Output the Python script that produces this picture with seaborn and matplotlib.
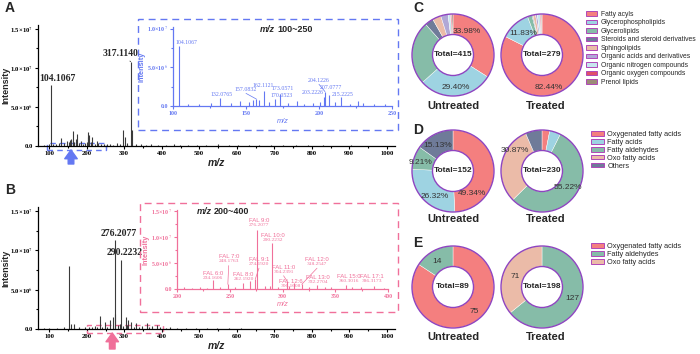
import numpy as np
import matplotlib
matplotlib.use("Agg")
import matplotlib.pyplot as plt
import seaborn as sns
from matplotlib.patches import Rectangle, Circle, Patch
from matplotlib.ticker import AutoMinorLocator

sns.set_style("ticks")
plt.rcParams['font.family'] = ['Liberation Sans', 'DejaVu Sans']
plt.rcParams['mathtext.fontset'] = 'stix'

# ---------------- data ----------------
# panel A: mass spectrum (m/z, intensity)
a_mz = [85, 98, 104.1067, 110, 118, 126, 132.0765, 140, 146, 152, 155, 157.0832, 159,
        162.1121, 166, 170.0523, 173.0571, 179, 185, 190, 196, 201, 203.2226, 204.1226,
        207.0777, 211, 215.2225, 221, 227, 230, 238, 245, 254, 262, 270, 281, 289, 297,
        301, 306, 317.1140, 320, 331, 345, 358, 372, 390, 410, 433, 448, 470, 495, 518,
        551, 578, 603, 632, 660, 690, 722, 757, 790, 830, 868, 905, 942, 980]
a_int = [0.15e6, 0.2e6, 7.8e6, 0.3e6, 0.25e6, 0.35e6, 1.0e6, 0.4e6, 0.7e6, 0.5e6, 0.8e6, 0.9e6, 0.8e6,
         1.95e6, 0.5e6, 0.85e6, 1.6e6, 0.4e6, 0.6e6, 0.3e6, 0.4e6, 0.5e6, 1.1e6, 1.85e6,
         1.4e6, 0.5e6, 1.1e6, 0.3e6, 0.6e6, 0.4e6, 0.25e6, 0.2e6, 0.3e6, 0.2e6, 0.15e6, 0.35e6, 0.3e6, 2.1e6,
         1.2e6, 0.4e6, 1.08e7, 2.0e6, 0.3e6, 0.2e6, 0.15e6, 0.2e6, 0.15e6, 0.12e6, 0.2e6, 0.15e6, 0.1e6, 0.15e6, 0.1e6,
         0.25e6, 0.1e6, 0.15e6, 0.1e6, 0.12e6, 0.1e6, 0.08e6, 0.1e6, 0.08e6, 0.08e6, 0.06e6, 0.08e6, 0.06e6, 0.05e6]

# panel B: mass spectrum (m/z, intensity)
b_mz = [85, 100, 120, 138, 152.05, 158, 167, 180, 195, 207, 214, 222, 228, 234.1606, 241,
        248.1763, 255, 262.1920, 269, 274.1920, 276.2077, 283, 288, 290.2232, 296, 304.2391,
        306.1608, 311, 318.2547, 325, 332.2704, 340, 346, 360.3016, 366, 374, 386.3173, 396,
        410, 422, 440, 465, 490, 520, 548, 580, 610, 650, 700, 760, 820, 890, 950]
b_int = [0.1e6, 0.1e6, 0.15e6, 0.2e6, 8.0e6, 0.6e6, 0.6e6, 0.2e6, 0.2e6, 0.3e6, 0.2e6, 0.35e6, 0.2e6, 1.65e6, 0.3e6,
         0.9e6, 0.3e6, 1.2e6, 1.5e6, 1.9e6, 1.13e7, 0.5e6, 0.6e6, 8.8e6, 0.4e6, 1.55e6,
         0.5e6, 1.1e6, 0.9e6, 0.3e6, 0.7e6, 0.3e6, 0.4e6, 0.7e6, 0.3e6, 0.4e6, 0.5e6, 0.2e6,
         0.15e6, 0.25e6, 0.1e6, 0.15e6, 0.1e6, 0.12e6, 0.1e6, 0.08e6, 0.08e6, 0.06e6, 0.06e6, 0.05e6, 0.05e6, 0.04e6, 0.04e6]

# annotated peaks
a_main_labels = ['104.1067', '317.1140']
a_inset_labels = ['104.1067', '132.0765', '157.0832', '162.1121', '173.0571', '170.0523',
                  '204.1226', '207.0777', '203.2226', '215.2225']
b_main_labels = ['276.2077', '290.2232']
b_inset_names = ['FAL 6:0', 'FAL 7:0', 'FAL 8:0', 'FAL 9:0', 'FAL 9:1', 'FAL 10:0', 'FAL 11:0',
                 'FAL 12:6', 'FAL 12:0', 'FAL 13:0', 'FAL 15:0', 'FAL 17:1']
b_inset_mz = ['234.1606', '248.1763', '262.1920', '276.2077', '274.1920', '290.2232', '304.2391',
              '306.1608', '318.2547', '332.2704', '360.3016', '386.3173']

# panel C: lipid classes
c_classes = ['Fatty acyls', 'Glycerophospholipids', 'Glycerolipids', 'Steroids and steroid derivatives',
             'Sphingolipids', 'Organic acids and derivatives', 'Organic nitrogen compounds',
             'Organic oxygen compounds', 'Prenol lipids']
c_untreated = [141, 122, 104, 14, 14, 12, 4, 2, 2]
c_treated = [230, 33, 5, 1, 3, 2, 3, 1, 1]

# panel D: fatty acyl subclasses
d_classes = ['Oxygenated fatty acids', 'Fatty acids', 'Fatty aldehydes', 'Oxo fatty acids', 'Others']
d_untreated = [75, 40, 14, 0, 23]
d_treated = [7, 10, 127, 71, 15]

# panel E
e_classes = ['Oxygenated fatty acids', 'Fatty aldehydes', 'Oxo fatty acids']
e_untreated = [75, 14, 0]
e_treated = [0, 127, 71]

groups = ['Untreated', 'Treated']

# ---------------- style ----------------
W, H = 700, 354
BLUE = '#6478F2'
PINK = '#F0709A'
PURPLE = '#8E44C0'
LEG_EDGE = '#B048B8'
c_colors = ['#F47F7F', '#9ED3E2', '#86BCA8', '#6F7B99', '#EBBBA8', '#B0A8D6', '#C6E6EE', '#E0506A', '#9C8B78']
d_colors = ['#F47F7F', '#9ED3E2', '#86BCA8', '#EBBBA8', '#6F7B99']
e_colors = ['#F47F7F', '#86BCA8', '#EBBBA8']
SERIF = ['Liberation Serif', 'DejaVu Serif']


def fx(px):
    return px / W


def fy(py):
    return 1 - py / H


def ax_rect(left, top, right, bottom):
    return [fx(left), fy(bottom), (right - left) / W, (bottom - top) / H]


def sci_labels(ticks):
    out = []
    for t in ticks:
        if t == 0:
            out.append('0.0')
        else:
            e = int(np.floor(np.log10(t)))
            out.append('%.1f×10$^{%d}$' % (t / 10 ** e, e))
    return out


def style_spec_axis(ax, color, labelsize):
    sns.despine(ax=ax)
    for s in ['left', 'bottom']:
        ax.spines[s].set_color(color)
        ax.spines[s].set_linewidth(0.9)
    ax.tick_params(which='both', direction='out', colors=color, labelsize=labelsize, width=0.8, pad=1.2)
    ax.tick_params(which='major', length=2.5)
    ax.tick_params(which='minor', length=1.3)
    ax.xaxis.set_minor_locator(AutoMinorLocator(2))
    ax.yaxis.set_minor_locator(AutoMinorLocator(2))
    for lab in ax.get_xticklabels() + ax.get_yticklabels():
        lab.set_family(SERIF)
        lab.set_fontweight('bold')


def draw_main(ax, mz, inten, yticks):
    ax.vlines(mz, 0, inten, color='#3a3a3a', linewidth=0.8)
    ax.set_xlim(70, 1022)
    ax.set_ylim(0, 1.55e7)
    ax.set_xticks(range(100, 1001, 100))
    ax.set_yticks(yticks)
    ax.set_yticklabels(sci_labels(yticks))
    style_spec_axis(ax, 'black', 4.8)
    ax.set_ylabel('Intensity', fontsize=6.5, fontweight='bold')
    ax.yaxis.set_label_coords(-0.077, 0.5)
    ax.set_xlabel('m/z', fontsize=7.5, fontweight='bold', style='italic', labelpad=1)
    ax.patch.set_alpha(0)


def draw_inset(ax, mz, inten, color, xlim, ylim, xticks, yticks):
    ax.vlines(mz, 0, inten, color=color, linewidth=0.8)
    ax.set_xlim(*xlim)
    ax.set_ylim(*ylim)
    ax.set_xticks(xticks)
    ax.set_yticks(yticks)
    ax.set_yticklabels(sci_labels(yticks))
    style_spec_axis(ax, color, 4.3)
    ax.set_ylabel('Intensity', fontsize=5.3, fontweight='bold', color=color, labelpad=1)
    ax.set_xlabel('m/z', fontsize=5.3, style='italic', color=color, labelpad=1)
    ax.patch.set_alpha(0)


def peak_height(mz, inten, label):
    return inten[int(np.argmin(np.abs(np.array(mz) - float(label))))]


# ---------------- figure ----------------
fig = plt.figure(figsize=(7, 3.54), dpi=100)

# ---- A ----
axA = fig.add_axes(ax_rect(38, 25, 395, 146))
draw_main(axA, a_mz, a_int, [0, 5e6, 1e7, 1.5e7])
axA.text(123, peak_height(a_mz, a_int, a_main_labels[0]) + 0.25e6, a_main_labels[0],
         ha='center', va='bottom', fontsize=7, fontweight='bold', family=SERIF)
axA.annotate(a_main_labels[1], xy=(317.1, peak_height(a_mz, a_int, a_main_labels[1])),
             xytext=(290, 1.13e7), ha='center', va='bottom', fontsize=7, fontweight='bold', family=SERIF,
             arrowprops=dict(arrowstyle='-', color='#444444', lw=0.6, shrinkA=0, shrinkB=0))
axA.add_patch(Rectangle((95, -0.5e6), 155, 0.9e6, fill=False, ec=BLUE, lw=1.0, ls=(0, (4, 3)), clip_on=False))
axA.annotate('', xy=(158, H - 150), xytext=(158, H - 164), xycoords=('data', 'figure pixels'),
             textcoords=('data', 'figure pixels'),
             arrowprops=dict(arrowstyle='simple,head_length=0.7,head_width=1.0,tail_width=0.45',
                             color=BLUE, mutation_scale=9, shrinkA=0, shrinkB=0))

fig.add_artist(Rectangle((fx(138), fy(130)), 260 / W, 111 / H, transform=fig.transFigure,
                         fill=False, ec=BLUE, lw=1.0, ls=(0, (5, 3.5))))
axAi = fig.add_axes(ax_rect(173, 27, 392, 106))
draw_inset(axAi, a_mz, a_int, BLUE, (100, 250), (0, 1.02e7), [100, 150, 200, 250], [0, 5e6, 1e7])
fig.text(fx(275), fy(29), 'm/z', ha='right', va='center', fontsize=6.5, fontweight='bold', style='italic')
fig.text(fx(277), fy(29), '100~250', ha='left', va='center', fontsize=6.5, fontweight='bold')
a_lab_pos = [(109.4, 8.2e6), (133.6, 1.43e6), (150, 2.08e6), (162, 2.6e6), (175, 2.2e6), (174.5, 1.3e6),
             (200, 3.25e6), (208.5, 2.45e6), (196, 1.7e6), (216.5, 1.5e6)]
for lab, (tx, ty) in zip(a_inset_labels, a_lab_pos):
    px = float(lab)
    py = peak_height(a_mz, a_int, lab)
    axAi.text(tx, ty, lab, ha='center', va='center', fontsize=4.2, color=BLUE, family=SERIF)
    if ty - 0.45e6 > py + 0.15e6 and abs(tx - px) > 2:
        axAi.plot([tx, px], [ty - 0.45e6, py], color=BLUE, lw=0.5)

# ---- B ----
axB = fig.add_axes(ax_rect(38, 207, 395, 329))
draw_main(axB, b_mz, b_int, [0, 5e6, 1e7, 1.5e7])
axB.text(285, peak_height(b_mz, b_int, b_main_labels[0]) + 0.3e6, b_main_labels[0],
         ha='center', va='bottom', fontsize=7, fontweight='bold', family=SERIF)
axB.text(300, peak_height(b_mz, b_int, b_main_labels[1]) + 0.3e6, b_main_labels[1],
         ha='center', va='bottom', fontsize=7, fontweight='bold', family=SERIF)
axB.add_patch(Rectangle((200, -0.5e6), 204, 1.0e6, fill=False, ec=PINK, lw=1.0, ls=(0, (4, 3)), clip_on=False))
axB.annotate('', xy=(268, H - 333), xytext=(268, H - 349), xycoords=('data', 'figure pixels'),
             textcoords=('data', 'figure pixels'),
             arrowprops=dict(arrowstyle='simple,head_length=0.7,head_width=1.0,tail_width=0.45',
                             color=PINK, mutation_scale=9, shrinkA=0, shrinkB=0))

fig.add_artist(Rectangle((fx(140), fy(312)), 258 / W, 109 / H, transform=fig.transFigure,
                         fill=False, ec=PINK, lw=1.0, ls=(0, (5, 3.5))))
axBi = fig.add_axes(ax_rect(177, 210, 388, 289))
draw_inset(axBi, b_mz, b_int, PINK, (200, 400), (0, 1.52e7), [200, 250, 300, 350, 400],
           [0, 5e6, 1e7, 1.5e7])
fig.text(fx(212), fy(211), 'm/z', ha='right', va='center', fontsize=6.5, fontweight='bold', style='italic')
fig.text(fx(214), fy(211), '200~400', ha='left', va='center', fontsize=6.5, fontweight='bold')
b_lab_pos = [(234, 2.5e6), (249, 5.7e6), (263, 2.3e6), (277.7, 12.7e6), (277.7, 5.2e6), (291, 9.8e6),
             (301, 3.75e6), (308, 1.05e6), (332.7, 5.2e6), (334, 1.75e6), (363, 1.9e6), (385, 1.9e6)]
for name, lab, (tx, ty) in zip(b_inset_names, b_inset_mz, b_lab_pos):
    px = float(lab)
    py = peak_height(b_mz, b_int, lab)
    axBi.text(tx, ty, name, ha='center', va='bottom', fontsize=4.3, color=PINK)
    axBi.text(tx, ty, lab, ha='center', va='top', fontsize=3.9, color=PINK, family=SERIF)
    if ty - 1.2e6 > py + 0.3e6:
        axBi.plot([tx, px], [ty - 1.2e6, py], color=PINK, lw=0.5)

# ---- donuts ----
donut_rows = [
    # centre y, classes, colours, untreated, treated, label mode, label positions (angle, r) per group
    (55, c_classes, c_colors, c_untreated, c_treated, 'pct',
     [{0: (31, 0.66), 1: (175, 0.8)}, {0: (169, 0.8), 1: (318, 0.7)}]),
    (171, d_classes, d_colors, d_untreated, d_treated, 'pct',
     [{0: (140, 0.72), 1: (216, 0.76), 2: (284, 0.82), 4: (330, 0.73)}, {2: (123, 0.76), 3: (308, 0.83)}]),
    (287, e_classes, e_colors, e_untreated, e_treated, 'count',
     [{0: (139, 0.8), 1: (328, 0.73)}, {1: (111, 0.8), 2: (292, 0.71)}]),
]
centres_x = [453, 542]
label_y = [106, 219, 337]
R = 41
HALF = 44

for row, (cy, classes, colors, unt, trt, mode, lpos) in enumerate(donut_rows):
    for g, vals in enumerate([unt, trt]):
        cx = centres_x[g]
        ax = fig.add_axes(ax_rect(cx - HALF, cy - HALF, cx + HALF, cy + HALF))
        keep = [i for i, v in enumerate(vals) if v > 0]
        ax.pie([vals[i] for i in keep], colors=[colors[i] for i in keep], startangle=90, counterclock=False,
               radius=1, wedgeprops=dict(width=0.5, edgecolor='white', linewidth=0.3))
        lim = HALF / R
        ax.set_xlim(-lim, lim)
        ax.set_ylim(-lim, lim)
        ax.set_aspect('equal')
        ax.axis('off')
        ax.add_patch(Circle((0, 0), 1, fill=False, ec=PURPLE, lw=1.0))
        ax.add_patch(Circle((0, 0), 0.5, fill=False, ec=PURPLE, lw=1.0))
        total = sum(vals)
        ax.text(0, 0, 'Total=%d' % total, ha='center', va='center', fontsize=6, fontweight='bold')
        for i, (ang, r) in lpos[g].items():
            if mode == 'pct':
                txt = '%.2f%%' % (100.0 * vals[i] / total)
            else:
                txt = '%d' % vals[i]
            a = np.deg2rad(ang)
            ax.text(r * np.sin(a), r * np.cos(a), txt, ha='center', va='center', fontsize=6, color='#333333')
        fig.text(fx(cx + (4 if g == 1 else 0)), fy(label_y[row]), groups[g], ha='center', va='center',
                 fontsize=8, fontweight='bold')

# legends
leg_specs = [(c_classes, c_colors, 11, 586, 4.85), (d_classes, d_colors, 131, 591, 5.3),
             (e_classes, e_colors, 243, 591, 5.3)]
for classes, colors, top, lx, fs in leg_specs:
    handles = [Patch(facecolor=c, edgecolor=LEG_EDGE, linewidth=0.7) for c in colors]
    fig.legend(handles, classes, loc='upper left', bbox_to_anchor=(fx(lx), fy(top)), frameon=False,
               fontsize=fs, handlelength=1.7, handleheight=0.6, handletextpad=0.5,
               labelspacing=0.12 if fs > 5 else 0.22, borderpad=0, borderaxespad=0)

# panel letters
for letter, (px, py) in zip('ABCDE', [(5, 8), (5, 190), (413, 8), (413, 130), (413, 243)]):
    fig.text(fx(px), fy(py), letter, ha='left', va='center', fontsize=10, fontweight='bold')

plt.savefig('out.png', dpi=100)
